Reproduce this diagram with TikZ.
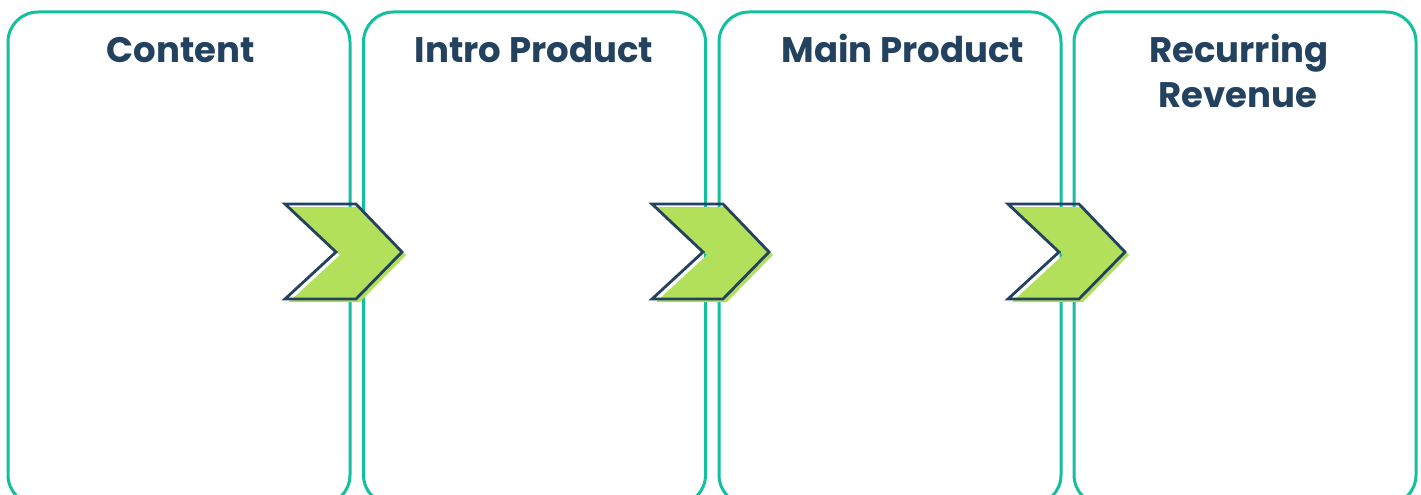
\documentclass[tikz,border=0pt]{standalone}
\usepackage{fontspec}
\setmainfont{Poppins}
\definecolor{teal}{HTML}{12BF9E}
\definecolor{lime}{HTML}{B2E05B}
\definecolor{navy}{HTML}{23425F}
\begin{document}
\begin{tikzpicture}[x=1pt,y=-1pt,
  panel/.style={draw=teal, line width=3pt, rounded corners=30pt, minimum width=342pt, minimum height=493pt, inner sep=0pt},
  title/.style={text=navy, font=\fontsize{35.5}{44}\selectfont\bfseries, anchor=base, inner sep=0pt, align=center},
  chevfill/.style={fill=lime},
  chevline/.style={draw=navy, line width=2.8pt, line join=miter}
]
\useasboundingbox (0,0) rectangle (1421,495);
\clip (0,0) rectangle (1421,495);
% panels
\node[panel] (p1) at (179,258.5) {};
\node[panel] (p2) at (534.5,258.5) {};
\node[panel] (p3) at (890,258.5) {};
\node[panel] (p4) at (1245,258.5) {};
% titles
\node[title] (t1) at (181,63) {Content};
\node[title] (t2) at (534,63) {Intro Product};
\node[title] (t3) at (903,63) {Main Product};
\node[title] (t4) at (1239,63) {Recurring};
\node[title] (t5) at (1238,107) {Revenue};
% chevrons
\foreach \x/\n in {285/c1,652/c2,1008/c3}{
  \fill[chevfill] (\x+4,207) -- (\x+75,207) -- (\x+121,255) -- (\x+75,302) -- (\x+4,302) -- (\x+55,255) -- cycle;
  \draw[chevline] (\x,204) -- (\x+71,204) -- (\x+117,252) -- (\x+71,299) -- (\x,299) -- (\x+51,252) -- cycle;
  \coordinate (\n) at (\x+58,252);
}
\end{tikzpicture}
\end{document}
